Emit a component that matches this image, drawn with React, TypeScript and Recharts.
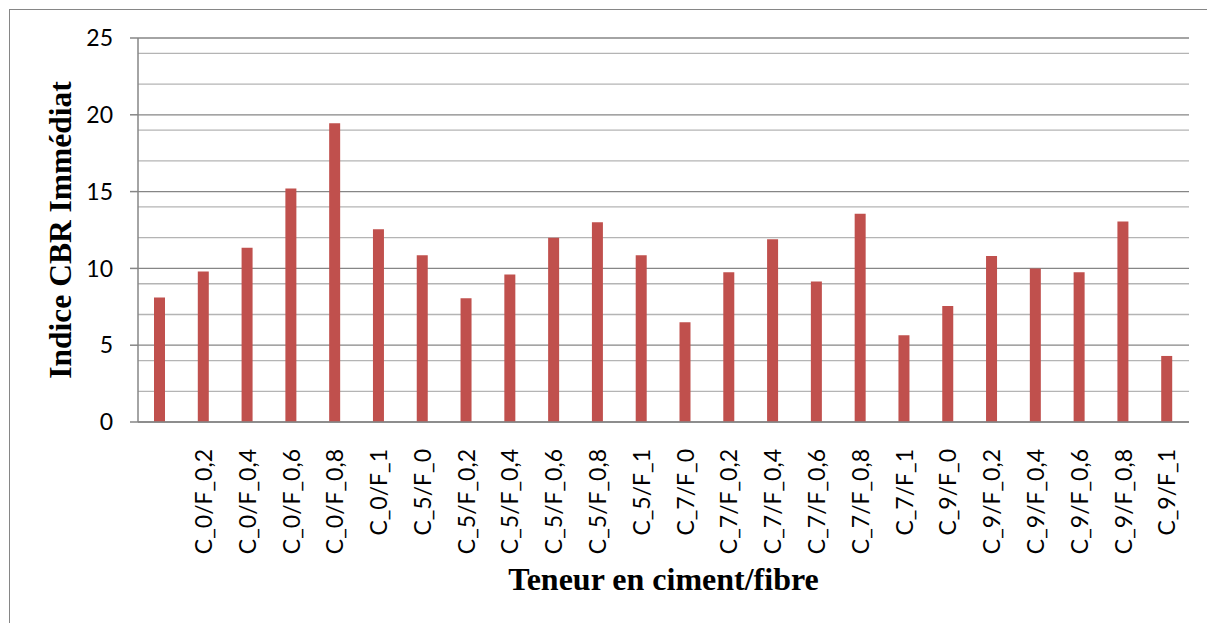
import { Bar, BarChart, CartesianGrid, XAxis, YAxis, Label } from 'recharts';

const categories = [
  '',
  'C_0/F_0,2',
  'C_0/F_0,4',
  'C_0/F_0,6',
  'C_0/F_0,8',
  'C_0/F_1',
  'C_5/F_0',
  'C_5/F_0,2',
  'C_5/F_0,4',
  'C_5/F_0,6',
  'C_5/F_0,8',
  'C_5/F_1',
  'C_7/F_0',
  'C_7/F_0,2',
  'C_7/F_0,4',
  'C_7/F_0,6',
  'C_7/F_0,8',
  'C_7/F_1',
  'C_9/F_0',
  'C_9/F_0,2',
  'C_9/F_0,4',
  'C_9/F_0,6',
  'C_9/F_0,8',
  'C_9/F_1',
];

const cbrValues = [
  8.1, 9.8, 11.35, 15.2, 19.45, 12.55, 10.85, 8.05, 9.6, 12.0, 13.0, 10.85,
  6.5, 9.75, 11.9, 9.15, 13.55, 5.65, 7.55, 10.8, 10.0, 9.75, 13.05, 4.3,
];

const majorTicks = [0, 5, 10, 15, 20, 25];
const minorTicks = [1, 2, 3, 4, 6, 7, 8, 9, 11, 12, 13, 14, 16, 17, 18, 19, 21, 22, 23, 24];

const data = categories.map((label, i) => ({ label, value: cbrValues[i] }));

const AXIS_GRAY = '#868686';
const TITLE_FONT = "'Liberation Serif', 'Times New Roman', serif";
const TICK_FONT = "Lato, 'Noto Sans', sans-serif";

// rotated category label, reads bottom-to-top like Excel
const RotatedTick = (props: any) => {
  const { x, y, payload } = props;
  if (!payload.value) return null;
  return (
    <text
      x={x}
      y={y + 19}
      transform={`rotate(-90 ${x} ${y + 19})`}
      textAnchor="end"
      dy="0.36em"
      fill="#000"
      fontSize={23}
      fontFamily={TICK_FONT}
    >
      {payload.value}
    </text>
  );
};

export default function App() {
  return (
    <div style={{ position: 'relative', width: 1207, height: 615, overflow: 'hidden' }}>
      {/* chart frame, runs off the right and bottom edges */}
      <div
        style={{
          position: 'absolute',
          left: 1,
          top: 1,
          width: 1300,
          height: 700,
          borderLeft: `1px solid ${AXIS_GRAY}`,
          borderTop: `1px solid ${AXIS_GRAY}`,
        }}
      />
      <div style={{ position: 'absolute', left: 0, top: 0 }}>
        <BarChart
          width={1207}
          height={615}
          data={data}
          margin={{ top: 30, right: 26, left: 60, bottom: 41 }}
          barCategoryGap="0%"
        >
          <CartesianGrid
            horizontal
            vertical={false}
            horizontalValues={minorTicks}
            stroke="#B4B4B4"
            strokeWidth={1.3}
          />
          <CartesianGrid
            horizontal
            vertical={false}
            horizontalValues={majorTicks}
            stroke={AXIS_GRAY}
            strokeWidth={1.3}
          />
          <XAxis
            dataKey="label"
            interval={0}
            height={160}
            tickLine={false}
            axisLine={{ stroke: AXIS_GRAY, strokeWidth: 1.5 }}
            tick={<RotatedTick />}
          >
            <Label
              value="Teneur en ciment/fibre"
              position="insideBottom"
              offset={-8}
              style={{
                fill: '#000',
                fontSize: 32,
                fontWeight: 'bold',
                fontFamily: TITLE_FONT,
              }}
            />
          </XAxis>
          <YAxis
            type="number"
            domain={[0, 25]}
            ticks={majorTicks}
            width={70}
            tickSize={8}
            tickMargin={17}
            tickLine={{ stroke: AXIS_GRAY, strokeWidth: 1.5 }}
            axisLine={{ stroke: AXIS_GRAY, strokeWidth: 1.5 }}
            tick={{ fill: '#000', fontSize: 23, fontFamily: TICK_FONT }}
          >
            <Label
              value="Indice CBR Immédiat"
              angle={-90}
              position="center"
              dx={-43}
              style={{
                textAnchor: 'middle',
                fill: '#000',
                fontSize: 31.5,
                fontWeight: 'bold',
                fontFamily: TITLE_FONT,
              }}
            />
          </YAxis>
          <Bar dataKey="value" fill="#C0504D" barSize={11} isAnimationActive={false} />
        </BarChart>
      </div>
    </div>
  );
}
